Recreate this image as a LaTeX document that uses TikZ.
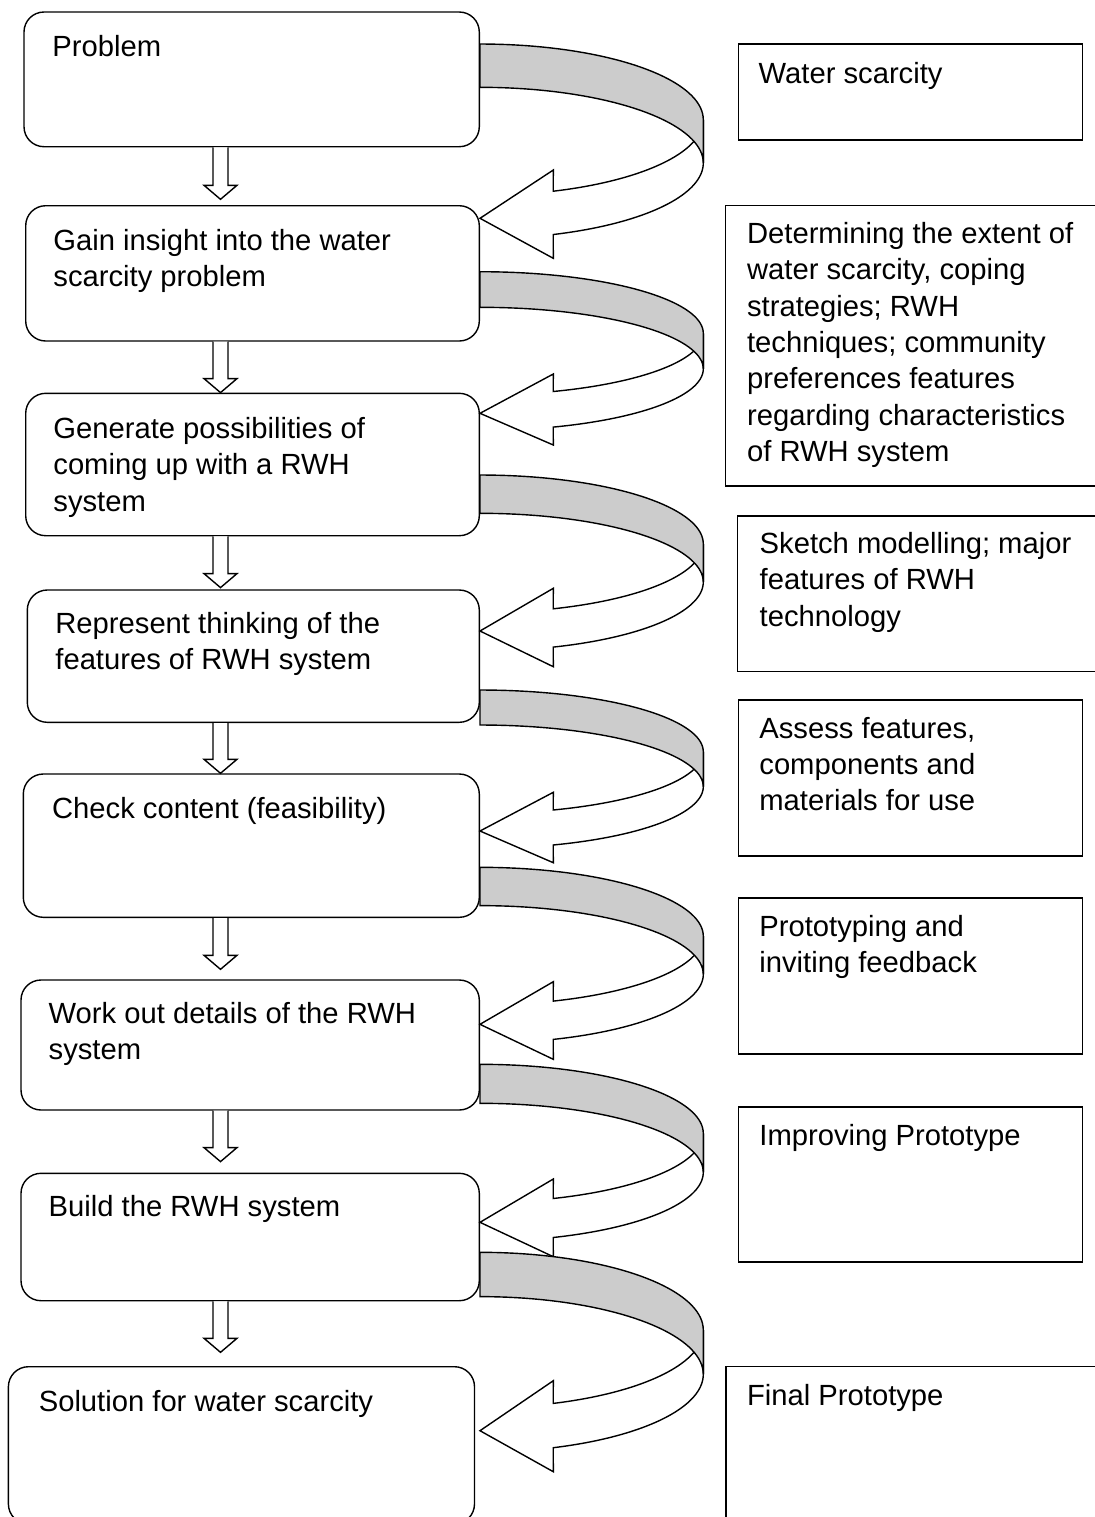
\documentclass[tikz,border=0pt]{standalone}
\usepackage{fontspec}
\setmainfont{Liberation Sans}
\usetikzlibrary{calc,fit}
\definecolor{bandgray}{RGB}{204,204,204}
\tikzset{
  lbox/.style={draw, line width=0.7pt, rounded corners=10pt, inner sep=0pt, fill=white},
  rbox/.style={draw, line width=0.7pt, inner sep=0pt, fill=white},
  txt/.style={anchor=base west, inner sep=0pt, align=left, font=\fontsize{14.6}{18.2}\selectfont},
  hollow/.style={draw, line width=0.7pt, fill=white, line join=miter},
  curvebody/.style={draw, line width=0.7pt, fill=white, line join=miter},
  curveback/.style={draw, line width=0.7pt, fill=bandgray, line join=miter},
}
% #1 yTop, #2 thickness, #3 semi-axis b, #4 head top, #5 tip, #6 head bottom
\newcommand\curvarrow[6]{%
  \pgfmathsetmacro\cU{#1+#3}%
  \pgfmathsetmacro\cL{#1+#2+#3}%
  \draw[curvebody] (703.3,\cU) -- plot[domain=0:70.84,samples=40] ({480+223.3*cos(\x)},{\cU+#3*sin(\x)})
     -- (553.3,#4) -- (480,#5) -- (553.3,#6)
     -- plot[domain=70.84:0,samples=40] ({480+223.3*cos(\x)},{\cL+#3*sin(\x)}) -- cycle;
  \draw[curveback] plot[domain=-90:0,samples=40] ({480+223.3*cos(\x)},{\cU+#3*sin(\x)})
     -- plot[domain=0:-90,samples=40] ({480+223.3*cos(\x)},{\cL+#3*sin(\x)}) -- cycle;
}
% #1 upper box, #2 lower box, #3 gap between tip and lower box
\newcommand\darrow[3]{%
  \draw[hollow] ($(#1.south -| ax)+(-7.5,0)$) -- ($(#2.north -| ax)+(-7.5,-#3-14)$)
    -- ($(#2.north -| ax)+(-16.5,-#3-14)$) -- ($(#2.north -| ax)+(0,-#3)$)
    -- ($(#2.north -| ax)+(16.5,-#3-14)$) -- ($(#2.north -| ax)+(7.5,-#3-14)$)
    -- ($(#1.south -| ax)+(7.5,0)$);
}
\begin{document}
\begin{tikzpicture}[x=0.5pt,y=-0.5pt]
\useasboundingbox (0,0) rectangle (1094,1517);
\coordinate (ax) at (220.5,0);
% left boxes
\node[lbox, fit={(24,12) (479.3,146.7)}] (b1) {};
\node[lbox, fit={(25.7,205.7) (479.3,341)}] (b2) {};
\node[lbox, fit={(25.7,393.3) (479.3,535.7)}] (b3) {};
\node[lbox, fit={(27.3,590) (479.3,722.3)}] (b4) {};
\node[lbox, fit={(23.3,774) (479.3,917.3)}] (b5) {};
\node[lbox, fit={(21,980) (479.3,1110)}] (b6) {};
\node[lbox, fit={(21,1173.3) (479.3,1300.7)}] (b7) {};
\node[lbox, fit={(8.4,1366.7) (474.5,1524)}] (b8) {};
% right boxes
\node[rbox, fit={(738.3,44) (1082.3,140)}] (r1) {};
\node[rbox, fit={(725.7,205.7) (1098,486)}] (r2) {};
\node[rbox, fit={(737.7,516) (1098,671.7)}] (r3) {};
\node[rbox, fit={(738.3,700) (1082.3,856)}] (r4) {};
\node[rbox, fit={(738.3,898) (1082.3,1054)}] (r5) {};
\node[rbox, fit={(738.3,1107) (1082.3,1262)}] (r6) {};
\node[rbox, fit={(725.8,1366.7) (1098,1524)}] (r7) {};
% texts (anchor = baseline of the last line)
\node[txt] (t1) at (52,56) {Problem};
\node[txt] (t2) at (53,286.4) {Gain insight into the water\\scarcity problem};
\node[txt] (t3) at (53,511.1) {Generate possibilities of\\coming up with a RWH\\system};
\node[txt] (t4) at (55,669.7) {Represent thinking of the\\features of RWH system};
\node[txt] (t5) at (51.7,818.3) {Check content (feasibility)};
\node[txt] (t6) at (48.3,1059.4) {Work out details of the RWH\\system};
\node[txt] (t7) at (48.3,1216.7) {Build the RWH system};
\node[txt] (t8) at (38.4,1411.7) {Solution for water scarcity};
\node[txt] (s1) at (758.3,83.3) {Water scarcity};
\node[txt] (s2) at (746.7,461.7) {Determining the extent of\\water scarcity, coping\\strategies; RWH\\techniques; community\\preferences features\\regarding characteristics\\of RWH system};
\node[txt] (s3) at (759.3,626.1) {Sketch modelling; major\\features of RWH\\technology};
\node[txt] (s4) at (759,810.8) {Assess features,\\components and\\materials for use};
\node[txt] (s5) at (759,972.4) {Prototyping and\\inviting feedback};
\node[txt] (s6) at (759,1145) {Improving Prototype};
\node[txt] (s7) at (746.7,1405) {Final Prototype};
% curved arrows
\curvarrow{44}{43.3}{75.7}{170}{218.3}{258.3}
\curvarrow{271.7}{35.6}{61.6}{374}{413.3}{445}
\curvarrow{475}{38.3}{68.8}{588.3}{631}{666.7}
\curvarrow{690}{35}{61.7}{792.3}{831}{862.7}
\curvarrow{867.3}{38.3}{68.8}{981.7}{1024.3}{1059.3}
\curvarrow{1064.3}{39}{69}{1179}{1222.3}{1256.7}
\curvarrow{1252.3}{44.3}{77.7}{1380.7}{1430.7}{1471.7}
% down arrows
\darrow{b1}{b2}{5.7}
\darrow{b2}{b3}{0}
\darrow{b3}{b4}{1.7}
\darrow{b4}{b5}{0}
\darrow{b5}{b6}{10}
\darrow{b6}{b7}{11}
\darrow{b7}{b8}{13.7}
\end{tikzpicture}
\end{document}
